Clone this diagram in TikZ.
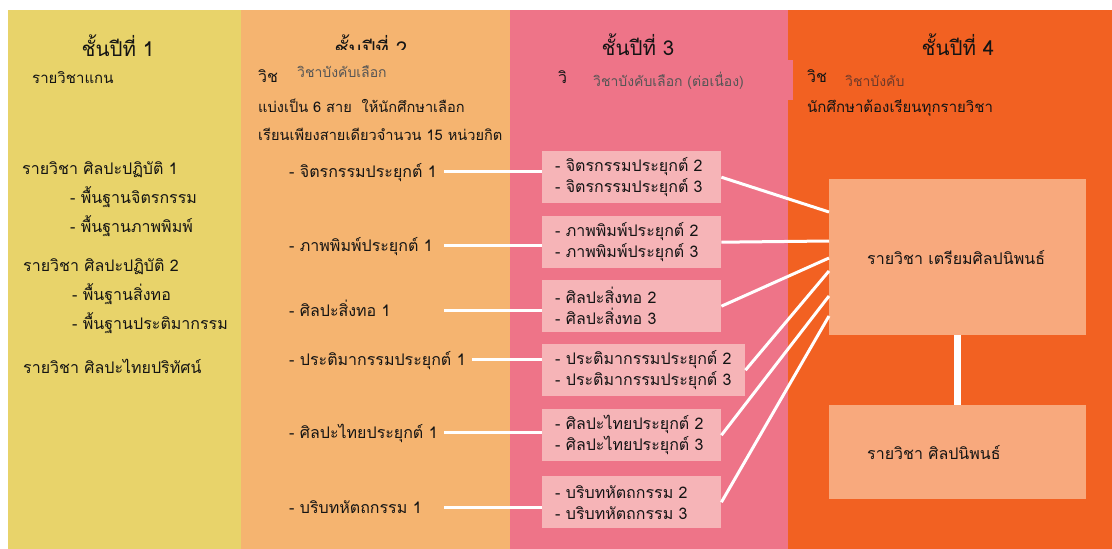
\documentclass[tikz,border=0pt]{standalone}
\usepackage{fontspec}
\setmainfont[Script=Thai]{Loma}
\definecolor{cyel}{HTML}{E8D36A}
\definecolor{corl}{HTML}{F5B470}
\definecolor{cpink}{HTML}{EE7488}
\definecolor{corg}{HTML}{F26122}
\definecolor{cpbox}{HTML}{F6B4B7}
\definecolor{cobox}{HTML}{F8A97D}
\definecolor{ctext}{HTML}{141414}
\definecolor{cgray}{HTML}{555555}
\definecolor{cshadow}{HTML}{6E3A2A}
\tikzset{
  txt/.style={anchor=base west, inner sep=0pt, text=ctext, font=\fontsize{16}{21}\selectfont},
  smalltxt/.style={txt, font=\fontsize{14.6}{21}\selectfont},
  subtxt/.style={anchor=base west, inner sep=0pt, text=cgray, font=\fontsize{14}{18}\selectfont},
  hdr/.style={anchor=base, inner sep=0pt, text=ctext, font=\fontsize{20.5}{24}\selectfont},
  pbox/.style={fill=cpbox, anchor=north west, minimum height=52pt, inner xsep=13pt, inner ysep=0pt,
    text width=153pt, align=left, text=ctext, font=\fontsize{16}{21}\selectfont},
  obox/.style={fill=cobox, anchor=north west, minimum width=257pt, text width=181pt, inner xsep=38pt,
    inner ysep=0pt, align=left, text=ctext, font=\fontsize{16}{21}\selectfont},
  wline/.style={draw=white, line width=3pt},
  wthick/.style={draw=white, line width=7pt},
}
\begin{document}
\begin{tikzpicture}[x=1pt,y=-1pt]
\useasboundingbox (0,0) rectangle (1112,549);
\fill[white] (0,0) rectangle (1112,549);
% columns
\fill[cyel] (8,10) rectangle (241,549);
\fill[corl] (241,10) rectangle (510,549);
\fill[cpink] (510,10) rectangle (788,549);
\fill[corg] (788,10) rectangle (1112,549);

% headers
\node[hdr] (h1) at (118,56) {ชั้นปีที่ 1};
\node[hdr] (h2) at (371,56) {ชั้นปีที่ 2};
\node[hdr] (h3) at (638,55) {ชั้นปีที่ 3};
\node[hdr] (h4) at (958,55) {ชั้นปีที่ 4};

% column 1
\node[txt, font=\fontsize{15}{21}\selectfont] (a0) at (32,83) {รายวิชาแกน};
\node[txt] (a1) at (22,174) {รายวิชา ศิลปะปฏิบัติ 1};
\node[txt] (a2) at (70,203) {- พื้นฐานจิตรกรรม};
\node[txt] (a3) at (70,232) {- พื้นฐานภาพพิมพ์};
\node[txt] (a4) at (23,271) {รายวิชา ศิลปะปฏิบัติ 2};
\node[txt] (a5) at (72,300) {- พื้นฐานสิ่งทอ};
\node[txt] (a6) at (72,329) {- พื้นฐานประติมากรรม};
\node[txt] (a7) at (23,373) {รายวิชา ศิลปะไทยปริทัศน์};

% column 2
\fill[corl] (290,50) rectangle (505,95);
\node[txt] (s2a) at (258,82) {วิช};
\node[subtxt] (s2b) at (297,77) {วิชาบังคับเลือก};
\node[smalltxt] (s2c) at (258,112) {แบ่งเป็น 6 สาย\ \ ให้นักศึกษาเลือก};
\node[smalltxt] (s2d) at (258,140) {เรียนเพียงสายเดียวจำนวน 15 หน่วยกิต};
\node[txt] (i1) at (289,177) {- จิตรกรรมประยุกต์ 1};
\node[txt] (i2) at (289,251) {- ภาพพิมพ์ประยุกต์ 1};
\node[txt] (i3) at (289,316) {- ศิลปะสิ่งทอ 1};
\node[txt] (i4) at (289,365) {- ประติมากรรมประยุกต์ 1};
\node[txt] (i5) at (289,438) {- ศิลปะไทยประยุกต์ 1};
\node[txt] (i6) at (289,513) {- บริบทหัตถกรรม 1};

% column 3
\node[txt] (s3a) at (558,83) {วิ};
\node[fill=cpink, anchor=north west, minimum width=222pt, minimum height=40pt, inner sep=0pt] (s3box) at (571,60) {};
\node[subtxt] (s3b) at (593,86) {วิชาบังคับเลือก (ต่อเนื่อง)};
\node[pbox] (b1) at (542,151) {\mbox{- จิตรกรรมประยุกต์ 2}\\\mbox{- จิตรกรรมประยุกต์ 3}};
\node[pbox] (b2) at (542,216) {\mbox{- ภาพพิมพ์ประยุกต์ 2}\\\mbox{- ภาพพิมพ์ประยุกต์ 3}};
\node[pbox] (b3) at (542,280) {\mbox{- ศิลปะสิ่งทอ 2}\\\mbox{- ศิลปะสิ่งทอ 3}};
\node[pbox, text width=177pt] (b4) at (542,344) {\mbox{- ประติมากรรมประยุกต์ 2}\\\mbox{- ประติมากรรมประยุกต์ 3}};
\node[pbox] (b5) at (542,409) {\mbox{- ศิลปะไทยประยุกต์ 2}\\\mbox{- ศิลปะไทยประยุกต์ 3}};
\node[pbox] (b6) at (542,476) {\mbox{- บริบทหัตถกรรม 2}\\\mbox{- บริบทหัตถกรรม 3}};

% column 4
\node[txt] (s4a) at (807,82) {วิช};
\node[subtxt, text=cshadow] (s4b) at (845,86) {วิชาบังคับ};
\node[txt, font=\fontsize{15}{21}\selectfont] (s4c) at (807,112) {นักศึกษาต้องเรียนทุกรายวิชา};
\node[obox, minimum height=156pt] (big) at (829,179) {รายวิชา เตรียมศิลปนิพนธ์};
\node[obox, minimum height=94pt] (thesis) at (829,405) {รายวิชา ศิลปนิพนธ์};

% connectors col2 -> col3
\foreach \i in {1,2,3,5,6}{
  \draw[wline] ([xshift=155pt,yshift=6pt]i\i.base west) -- ([yshift=6pt]i\i.base west -| b\i.west);
}
\draw[wline] ([xshift=183pt,yshift=6pt]i4.base west) -- ([yshift=6pt]i4.base west -| b4.west);
% connectors col3 -> big box
\draw[wline] (b1.east) -- ([yshift=-33pt]big.north west);
\draw[wline] (b2.east) -- ([yshift=-62pt]big.north west);
\draw[wline] (b3.east) -- ([yshift=-79pt]big.north west);
\draw[wline] (b4.east) -- ([yshift=-92pt]big.north west);
\draw[wline] (b5.east) -- ([yshift=-117pt]big.north west);
\draw[wline] (b6.east) -- ([yshift=-137pt]big.north west);
\draw[wthick] (big.south) -- (thesis.north);
\end{tikzpicture}
\end{document}
